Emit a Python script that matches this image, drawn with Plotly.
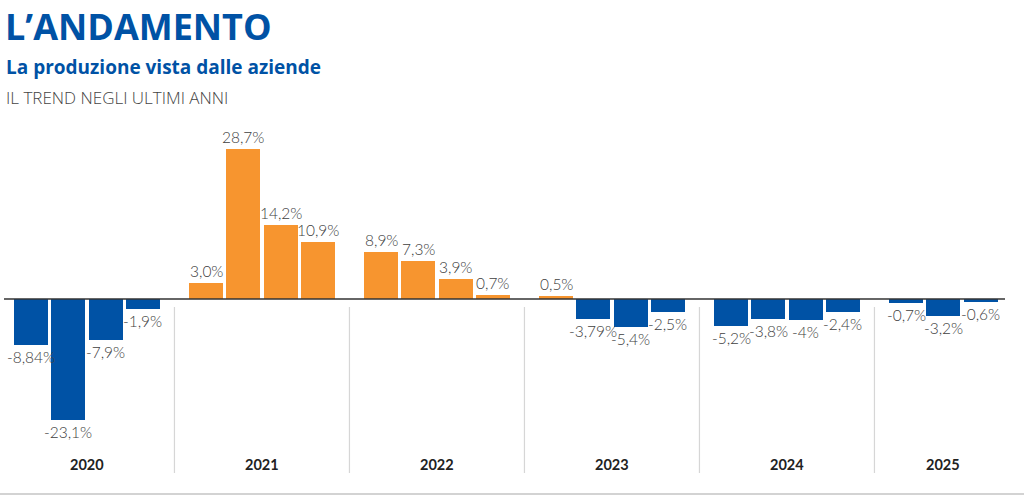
import plotly.graph_objects as go

years = ["2020", "2021", "2022", "2023", "2024", "2025"]
values = [
    [-8.84, -23.1, -7.9, -1.9],
    [3.0, 28.7, 14.2, 10.9],
    [8.9, 7.3, 3.9, 0.7],
    [0.5, -3.79, -5.4, -2.5],
    [-5.2, -3.8, -4.0, -2.4],
    [-0.7, -3.2, -0.6],
]
labels = [
    ["-8,84%", "-23,1%", "-7,9%", "-1,9%"],
    ["3,0%", "28,7%", "14,2%", "10,9%"],
    ["8,9%", "7,3%", "3,9%", "0,7%"],
    ["0,5%", "-3,79%", "-5,4%", "-2,5%"],
    ["-5,2%", "-3,8%", "-4%", "-2,4%"],
    ["-0,7%", "-3,2%", "-0,6%"],
]

ORANGE = "#F7952F"
BLUE = "#0052A5"
W, H = 1024, 497
SLOT = 37.3          # px per bar slot
X0 = 31              # px of first bar centre
G = 175 / SLOT       # group width in slot units
PXU = 5.235          # px per percentage point
ZERO = 299           # px of zero line

xs, ys, cols, txt = [], [], [], []
centres = []
for yi, vals in enumerate(values):
    gx = []
    for q, v in enumerate(vals):
        x = yi * G + q
        xs.append(x); ys.append(v); gx.append(x)
        cols.append(ORANGE if v >= 0 else BLUE)
        txt.append(labels[yi][q])
    centres.append(sum(gx) / len(gx))

fig = go.Figure(go.Bar(x=xs, y=ys, marker=dict(color=cols, line=dict(width=0)),
                       width=34 / SLOT, hoverinfo="skip"))

xr = [-X0 / SLOT, (W - X0) / SLOT]
yr = [-(H - ZERO) / PXU, ZERO / PXU]

ann = []
for x, v, t in zip(xs, ys, txt):
    ann.append(dict(x=x, y=v, text=t, showarrow=False, xref="x", yref="y",
                    yanchor="bottom" if v >= 0 else "top",
                    yshift=1 if v >= 0 else -1,
                    font=dict(family="Lato", size=15.5, color="#404040", weight=300)))
for c, yl in zip(centres, years):
    ann.append(dict(x=c, y=1 - 464 / H, xref="x", yref="paper", text=yl, showarrow=False,
                    yanchor="middle", font=dict(family="Lato", size=14.5, color="#222", weight=700)))

ann += [
    dict(x=3 / W, y=1, xref="paper", yref="paper", xanchor="left", yanchor="top",
         text="L’ANDAMENTO", showarrow=False,
         font=dict(family="Open Sans", size=36, color="#0052A5", weight=700)),
    dict(x=4 / W, y=1 - 67 / H, xref="paper", yref="paper", xanchor="left", yanchor="middle",
         text="La produzione vista dalle aziende", showarrow=False,
         font=dict(family="Open Sans", size=19, color="#0052A5", weight=700)),
    dict(x=4 / W, y=1 - 97 / H, xref="paper", yref="paper", xanchor="left", yanchor="middle",
         text="IL TREND NEGLI ULTIMI ANNI", showarrow=False,
         font=dict(family="Open Sans", size=17, color="#444", weight=300)),
]

shapes = []
for yi in range(1, len(years)):
    sx = (yi - 1) * G + 3 + (G - 3) / 2
    shapes.append(dict(type="line", xref="x", yref="paper", x0=sx, x1=sx,
                       y0=1 - 307 / H, y1=1 - 473 / H, line=dict(color="#d6d6d6", width=1.2)))
shapes.append(dict(type="line", xref="paper", yref="y", x0=4 / W, x1=1005 / W, y0=0, y1=0,
                   line=dict(color="#333", width=1.5)))
shapes.append(dict(type="line", xref="paper", yref="paper", x0=0, x1=1, y0=1 - 494 / H, y1=1 - 494 / H,
                   line=dict(color="#c4c4c4", width=1.5)))

fig.update_layout(
    width=W, height=H, margin=dict(l=0, r=0, t=0, b=0),
    paper_bgcolor="white", plot_bgcolor="white", showlegend=False,
    xaxis=dict(range=xr, visible=False, fixedrange=True),
    yaxis=dict(range=yr, visible=False, fixedrange=True),
    annotations=ann, shapes=shapes, bargap=0,
)
fig.write_html("out.html", config={"displayModeBar": False},
               post_script="document.body.style.margin='0';document.body.style.overflow='hidden';")
